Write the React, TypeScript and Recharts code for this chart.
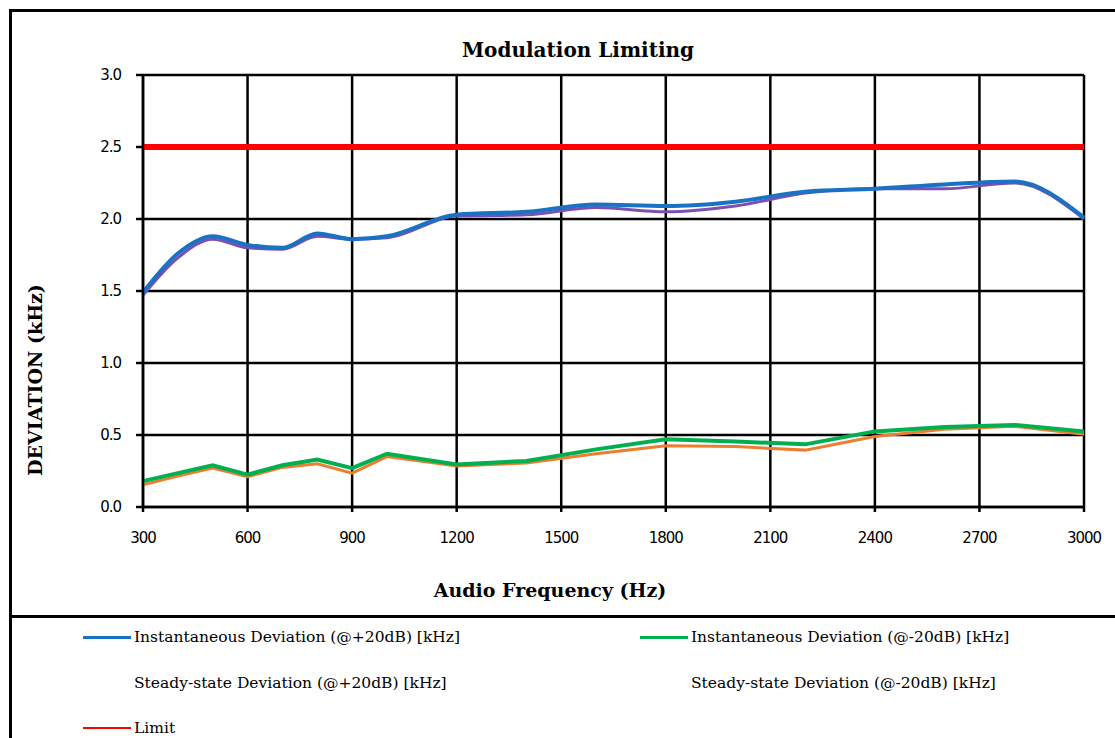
import React from "react";
import { LineChart, Line, XAxis, YAxis, CartesianGrid } from "recharts";

const freqs = [300, 400, 500, 600, 700, 800, 900, 1000, 1200, 1400, 1600, 1800, 2000, 2200, 2400, 2600, 2800, 3000];
const instPlus = [1.49, 1.76, 1.88, 1.82, 1.8, 1.9, 1.86, 1.88, 2.03, 2.05, 2.1, 2.09, 2.12, 2.19, 2.21, 2.24, 2.26, 2.01];
const steadyPlus = [1.47, 1.73, 1.86, 1.8, 1.79, 1.88, 1.86, 1.87, 2.02, 2.03, 2.08, 2.05, 2.09, 2.18, 2.21, 2.21, 2.25, 2.0];
const instMinus = [0.18, 0.235, 0.29, 0.225, 0.29, 0.33, 0.27, 0.37, 0.295, 0.32, 0.4, 0.47, 0.455, 0.435, 0.525, 0.555, 0.57, 0.525];
const steadyMinus = [0.155, 0.215, 0.27, 0.21, 0.275, 0.3, 0.235, 0.35, 0.285, 0.305, 0.37, 0.425, 0.42, 0.395, 0.49, 0.54, 0.56, 0.505];
const limitValue = 2.5;

const xTicks = [300, 600, 900, 1200, 1500, 1800, 2100, 2400, 2700, 3000];
const yTicks = [0, 0.5, 1.0, 1.5, 2.0, 2.5, 3.0];

const title = "Modulation Limiting";
const xTitle = "Audio Frequency (Hz)";
const yTitle = "DEVIATION (kHz)";

const legendItems = [
  { name: "Instantaneous Deviation (@+20dB) [kHz]", color: "#1a72c4", swatch: true, thick: 3 },
  { name: "Instantaneous Deviation (@-20dB) [kHz]", color: "#00b050", swatch: true, thick: 3 },
  { name: "Steady-state Deviation (@+20dB) [kHz]", color: "#7f4fb0", swatch: false, thick: 3 },
  { name: "Steady-state Deviation (@-20dB) [kHz]", color: "#ed7d31", swatch: false, thick: 3 },
  { name: "Limit", color: "#ff0000", swatch: true, thick: 2 },
];

const data = freqs.map((f, i) => ({
  f,
  instPlus: instPlus[i],
  steadyPlus: steadyPlus[i],
  instMinus: instMinus[i],
  steadyMinus: steadyMinus[i],
  limit: limitValue,
}));

const serif = "'DejaVu Serif', 'Liberation Serif', serif";
const sans = "'DejaVu Sans', 'Liberation Sans', sans-serif";

export default function App() {
  const tickStyle = { fontFamily: sans, fontSize: 15, fill: "#000", letterSpacing: -1 };
  return (
    <div style={{ position: "absolute", left: 0, top: 0, width: 1115, height: 738, background: "#fff", overflow: "hidden" }}>
      {/* borders */}
      <div style={{ position: "absolute", left: 9, top: 9, width: 1120, height: 3, background: "#000" }} />
      <div style={{ position: "absolute", left: 9, top: 9, width: 3, height: 740, background: "#000" }} />
      <div style={{ position: "absolute", left: 9, top: 615, width: 1120, height: 3, background: "#000" }} />

      <LineChart width={1115} height={738} data={data} margin={{ top: 75, right: 31, left: 0, bottom: 191 }}>
        <CartesianGrid stroke="#000" strokeWidth={2.5} />
        <XAxis
          dataKey="f"
          type="number"
          domain={[300, 3000]}
          ticks={xTicks}
          height={40}
          tick={tickStyle}
          tickSize={5}
          tickMargin={20}
          axisLine={{ stroke: "#000", strokeWidth: 2.5 }}
          tickLine={{ stroke: "#000", strokeWidth: 2.5 }}
          interval={0}
        />
        <YAxis
          type="number"
          domain={[0, 3]}
          ticks={yTicks}
          width={143}
          tick={tickStyle}
          tickFormatter={(v: number) => v.toFixed(1)}
          tickSize={7}
          tickMargin={15}
          axisLine={{ stroke: "#000", strokeWidth: 2.5 }}
          tickLine={{ stroke: "#000", strokeWidth: 2.5 }}
          interval={0}
        />
        <Line type="monotone" dataKey="steadyPlus" stroke="#7f4fb0" strokeWidth={3} dot={false} isAnimationActive={false} />
        <Line type="monotone" dataKey="instPlus" stroke="#1a72c4" strokeWidth={4} dot={false} isAnimationActive={false} />
        <Line type="linear" dataKey="steadyMinus" stroke="#ed7d31" strokeWidth={3} dot={false} isAnimationActive={false} />
        <Line type="linear" dataKey="instMinus" stroke="#00b050" strokeWidth={4} dot={false} isAnimationActive={false} />
        <Line type="linear" dataKey="limit" stroke="#ff0000" strokeWidth={6} dot={false} isAnimationActive={false} />
      </LineChart>

      {/* titles */}
      <div style={{ position: "absolute", left: 378, top: 37, width: 400, textAlign: "center", fontFamily: serif, fontWeight: "bold", fontSize: 20, lineHeight: "26px", color: "#000" }}>
        {title}
      </div>
      <div style={{ position: "absolute", left: 350, top: 577, width: 400, textAlign: "center", fontFamily: serif, fontWeight: "bold", fontSize: 19, lineHeight: "26px", color: "#000" }}>
        {xTitle}
      </div>
      <div style={{ position: "absolute", left: 35 - 150, top: 380 - 13, width: 300, textAlign: "center", fontFamily: serif, fontWeight: "bold", fontSize: 19, lineHeight: "26px", color: "#000", transform: "rotate(-90deg)", transformOrigin: "150px 13px" }}>
        {yTitle}
      </div>

      {/* legend */}
      {legendItems.map((it, i) => {
        const col = i === 4 ? 0 : i % 2;
        const row = i === 4 ? 2 : Math.floor(i / 2);
        const lx = col === 0 ? 83 : 640;
        const cy = [637, 683, 728][row];
        return (
          <div key={it.name} style={{ position: "absolute", left: lx, top: cy - 11, height: 22, display: "flex", alignItems: "center" }}>
            <div style={{ width: 48, height: it.thick, background: it.swatch ? it.color : "transparent", marginRight: 3 }} />
            <span style={{ fontFamily: serif, fontSize: 15.5, color: "#000", whiteSpace: "nowrap" }}>{it.name}</span>
          </div>
        );
      })}
    </div>
  );
}
